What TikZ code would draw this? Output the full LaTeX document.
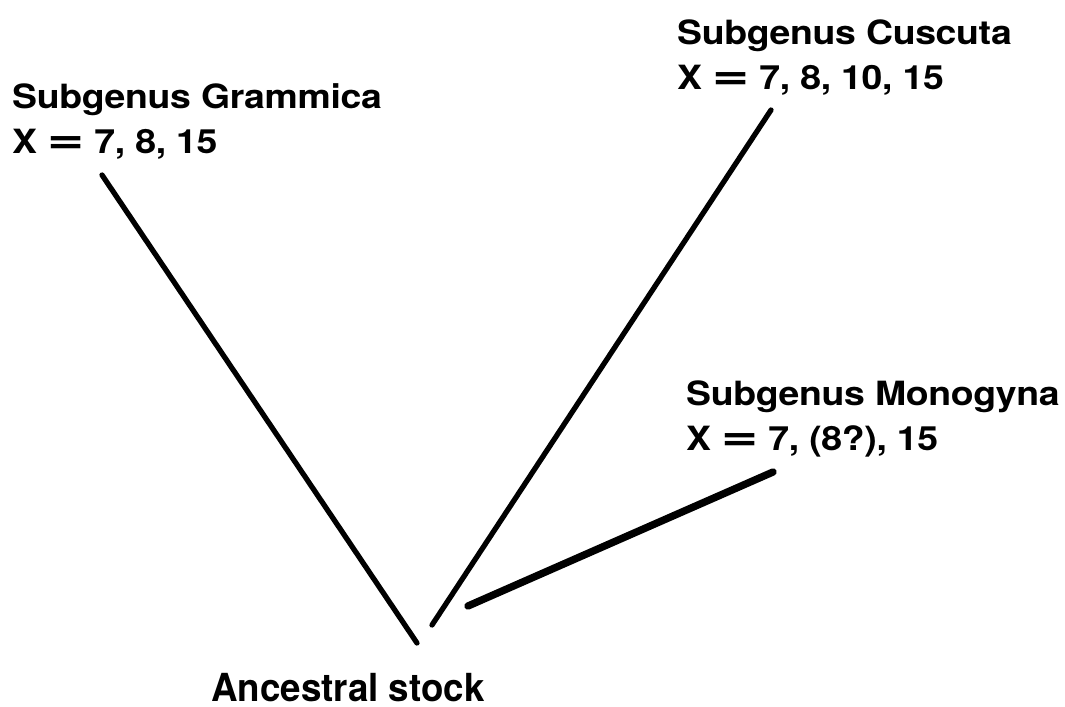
\documentclass[tikz,border=0pt]{standalone}
\usepackage{fontspec}
\newfontfamily\helv[FakeStretch=1.12,LetterSpace=-1]{TeX Gyre Heros}
\newfontfamily\helvnarrow[FakeStretch=0.95]{TeX Gyre Heros}
\newcommand{\wideeq}{\scalebox{1.7}[1.3]{=}}
\tikzset{
    taxon/.style={font=\helv\bfseries\fontsize{9.5}{12.8}\selectfont, align=left, inner sep=0pt, anchor=base west},
    branch/.style={line width=1.5pt, line cap=round},
}
\begin{document}
\begin{tikzpicture}
    \useasboundingbox[fill=white] (0,0) rectangle (10.65,7.06);

    %labels
    \node[taxon] (gram) at (0.115,5.53) {Subgenus Grammica\\X \wideeq{} 7, 8, 15};
    \node[taxon] (cusc) at (6.765,6.17) {Subgenus Cuscuta\\X \wideeq{} 7, 8, 10, 15};
    \node[taxon] (mono) at (6.855,2.56) {Subgenus Monogyna\\X \wideeq{} 7, (8?), 15};
    \node[taxon, font=\helvnarrow\bfseries\fontsize{11}{13}\selectfont] (anc) at (2.105,0.05) {Ancestral stock};

    %branch ends
    \coordinate (g1) at (1.02,5.31);
    \coordinate (g2) at (4.17,0.63);
    \coordinate (c1) at (4.32,0.81);
    \coordinate (c2) at (7.71,5.96);
    \coordinate (m1) at (4.68,1.00);
    \coordinate (m2) at (7.73,2.34);

    %branches
    \draw[branch] (g1) -- (g2);
    \draw[branch] (c1) -- (c2);
    \draw[branch, line width=2.1pt] (m1) -- (m2);
\end{tikzpicture}
\end{document}
